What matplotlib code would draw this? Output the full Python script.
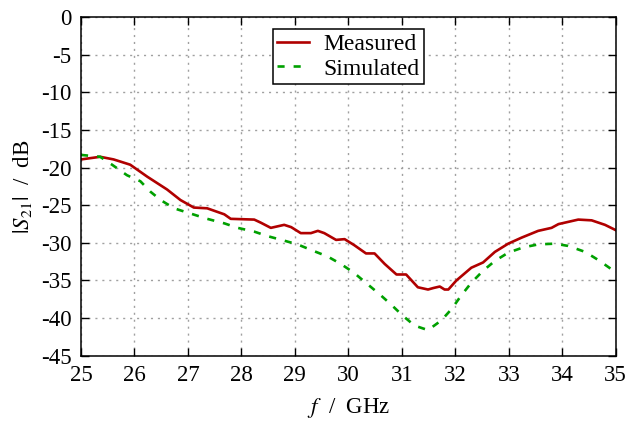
import matplotlib
matplotlib.use("Agg")
import matplotlib.pyplot as plt

# measured |S21|
f_meas = [25.0, 25.36, 25.61, 25.92, 26.24, 26.61, 26.86, 27.11, 27.36, 27.68,
          27.8, 28.24, 28.36, 28.55, 28.8, 28.93, 29.11, 29.3, 29.43, 29.55,
          29.77, 29.93, 30.11, 30.33, 30.49, 30.68, 30.9, 31.08, 31.3, 31.49,
          31.59, 31.71, 31.8, 31.87, 32.02, 32.3, 32.52, 32.74, 32.99, 33.24,
          33.55, 33.8, 33.93, 34.3, 34.55, 34.8, 35.0]
s21_meas = [-18.9, -18.55, -18.9, -19.6, -21.2, -22.9, -24.3, -25.3, -25.4, -26.2,
            -26.8, -26.9, -27.3, -28.0, -27.6, -27.9, -28.7, -28.7, -28.4, -28.7,
            -29.6, -29.5, -30.3, -31.4, -31.4, -32.8, -34.2, -34.2, -35.9, -36.2,
            -36.0, -35.8, -36.2, -36.2, -35.0, -33.3, -32.6, -31.2, -30.1, -29.3,
            -28.4, -28.0, -27.5, -26.9, -27.0, -27.6, -28.3]

# simulated |S21|
f_sim = [25.0, 25.36, 25.58, 25.86, 26.11, 26.3, 26.49, 26.74, 27.05, 27.36,
         27.68, 27.93, 28.24, 28.49, 28.8, 29.05, 29.36, 29.61, 29.86, 30.11,
         30.36, 30.58, 30.8, 31.02, 31.24, 31.49, 31.74, 31.93, 32.11, 32.3,
         32.52, 32.74, 32.99, 33.27, 33.55, 33.86, 34.11, 34.43, 34.68, 34.96, 35.0]
s21_sim = [-18.3, -18.55, -19.6, -21.0, -21.8, -23.2, -24.3, -25.4, -26.1, -26.8,
           -27.4, -28.0, -28.5, -29.1, -29.7, -30.2, -31.1, -31.8, -32.8, -34.0,
           -35.5, -36.8, -38.2, -39.7, -41.0, -41.6, -40.3, -38.8, -37.0, -35.3,
           -33.7, -32.4, -31.3, -30.6, -30.2, -30.1, -30.4, -31.2, -32.3, -33.7, -34.0]

xticks = list(range(25, 36))
yticks = list(range(-45, 1, 5))

plt.rcParams['font.family'] = ['Liberation Serif', 'DejaVu Serif']
plt.rcParams['mathtext.fontset'] = 'stix'
plt.rcParams['font.size'] = 16.5
plt.rcParams['axes.unicode_minus'] = False

fig = plt.figure(figsize=(6.26, 4.23), dpi=100)
ax = fig.add_axes([81 / 626, 1 - 355.7 / 423, (615.7 - 81) / 626, (355.7 - 17.3) / 423])

ax.plot(f_meas, s21_meas, color='#b00000', lw=1.9, label='Measured')
ax.plot(f_sim, s21_sim, color='#00a000', lw=1.9, ls=(0, (2.7, 3.4)), label='Simulated')

ax.set_xlim(25, 35)
ax.set_ylim(-45, 0)
ax.set_xticks(xticks)
ax.set_yticks(yticks)
ax.tick_params(direction='in', length=6, width=1, top=True, right=True, pad=7)
ax.grid(True, color='#a0a0a0', ls=(0, (1.5, 3.5)), lw=1)
for s in ax.spines.values():
    s.set_linewidth(1.1)

ax.set_xlabel('$f$  /  GHz', labelpad=7)
ax.set_ylabel('$|S_{21}|$  /  dB', labelpad=5)

leg = ax.legend(loc='upper center', fontsize=17, fancybox=False, framealpha=1,
                edgecolor='black', handlelength=1.35, borderpad=0.2, labelspacing=0.12,
                handletextpad=0.6, borderaxespad=0.5)
leg.get_frame().set_linewidth(1.1)

fig.savefig('out.png', dpi=100)
